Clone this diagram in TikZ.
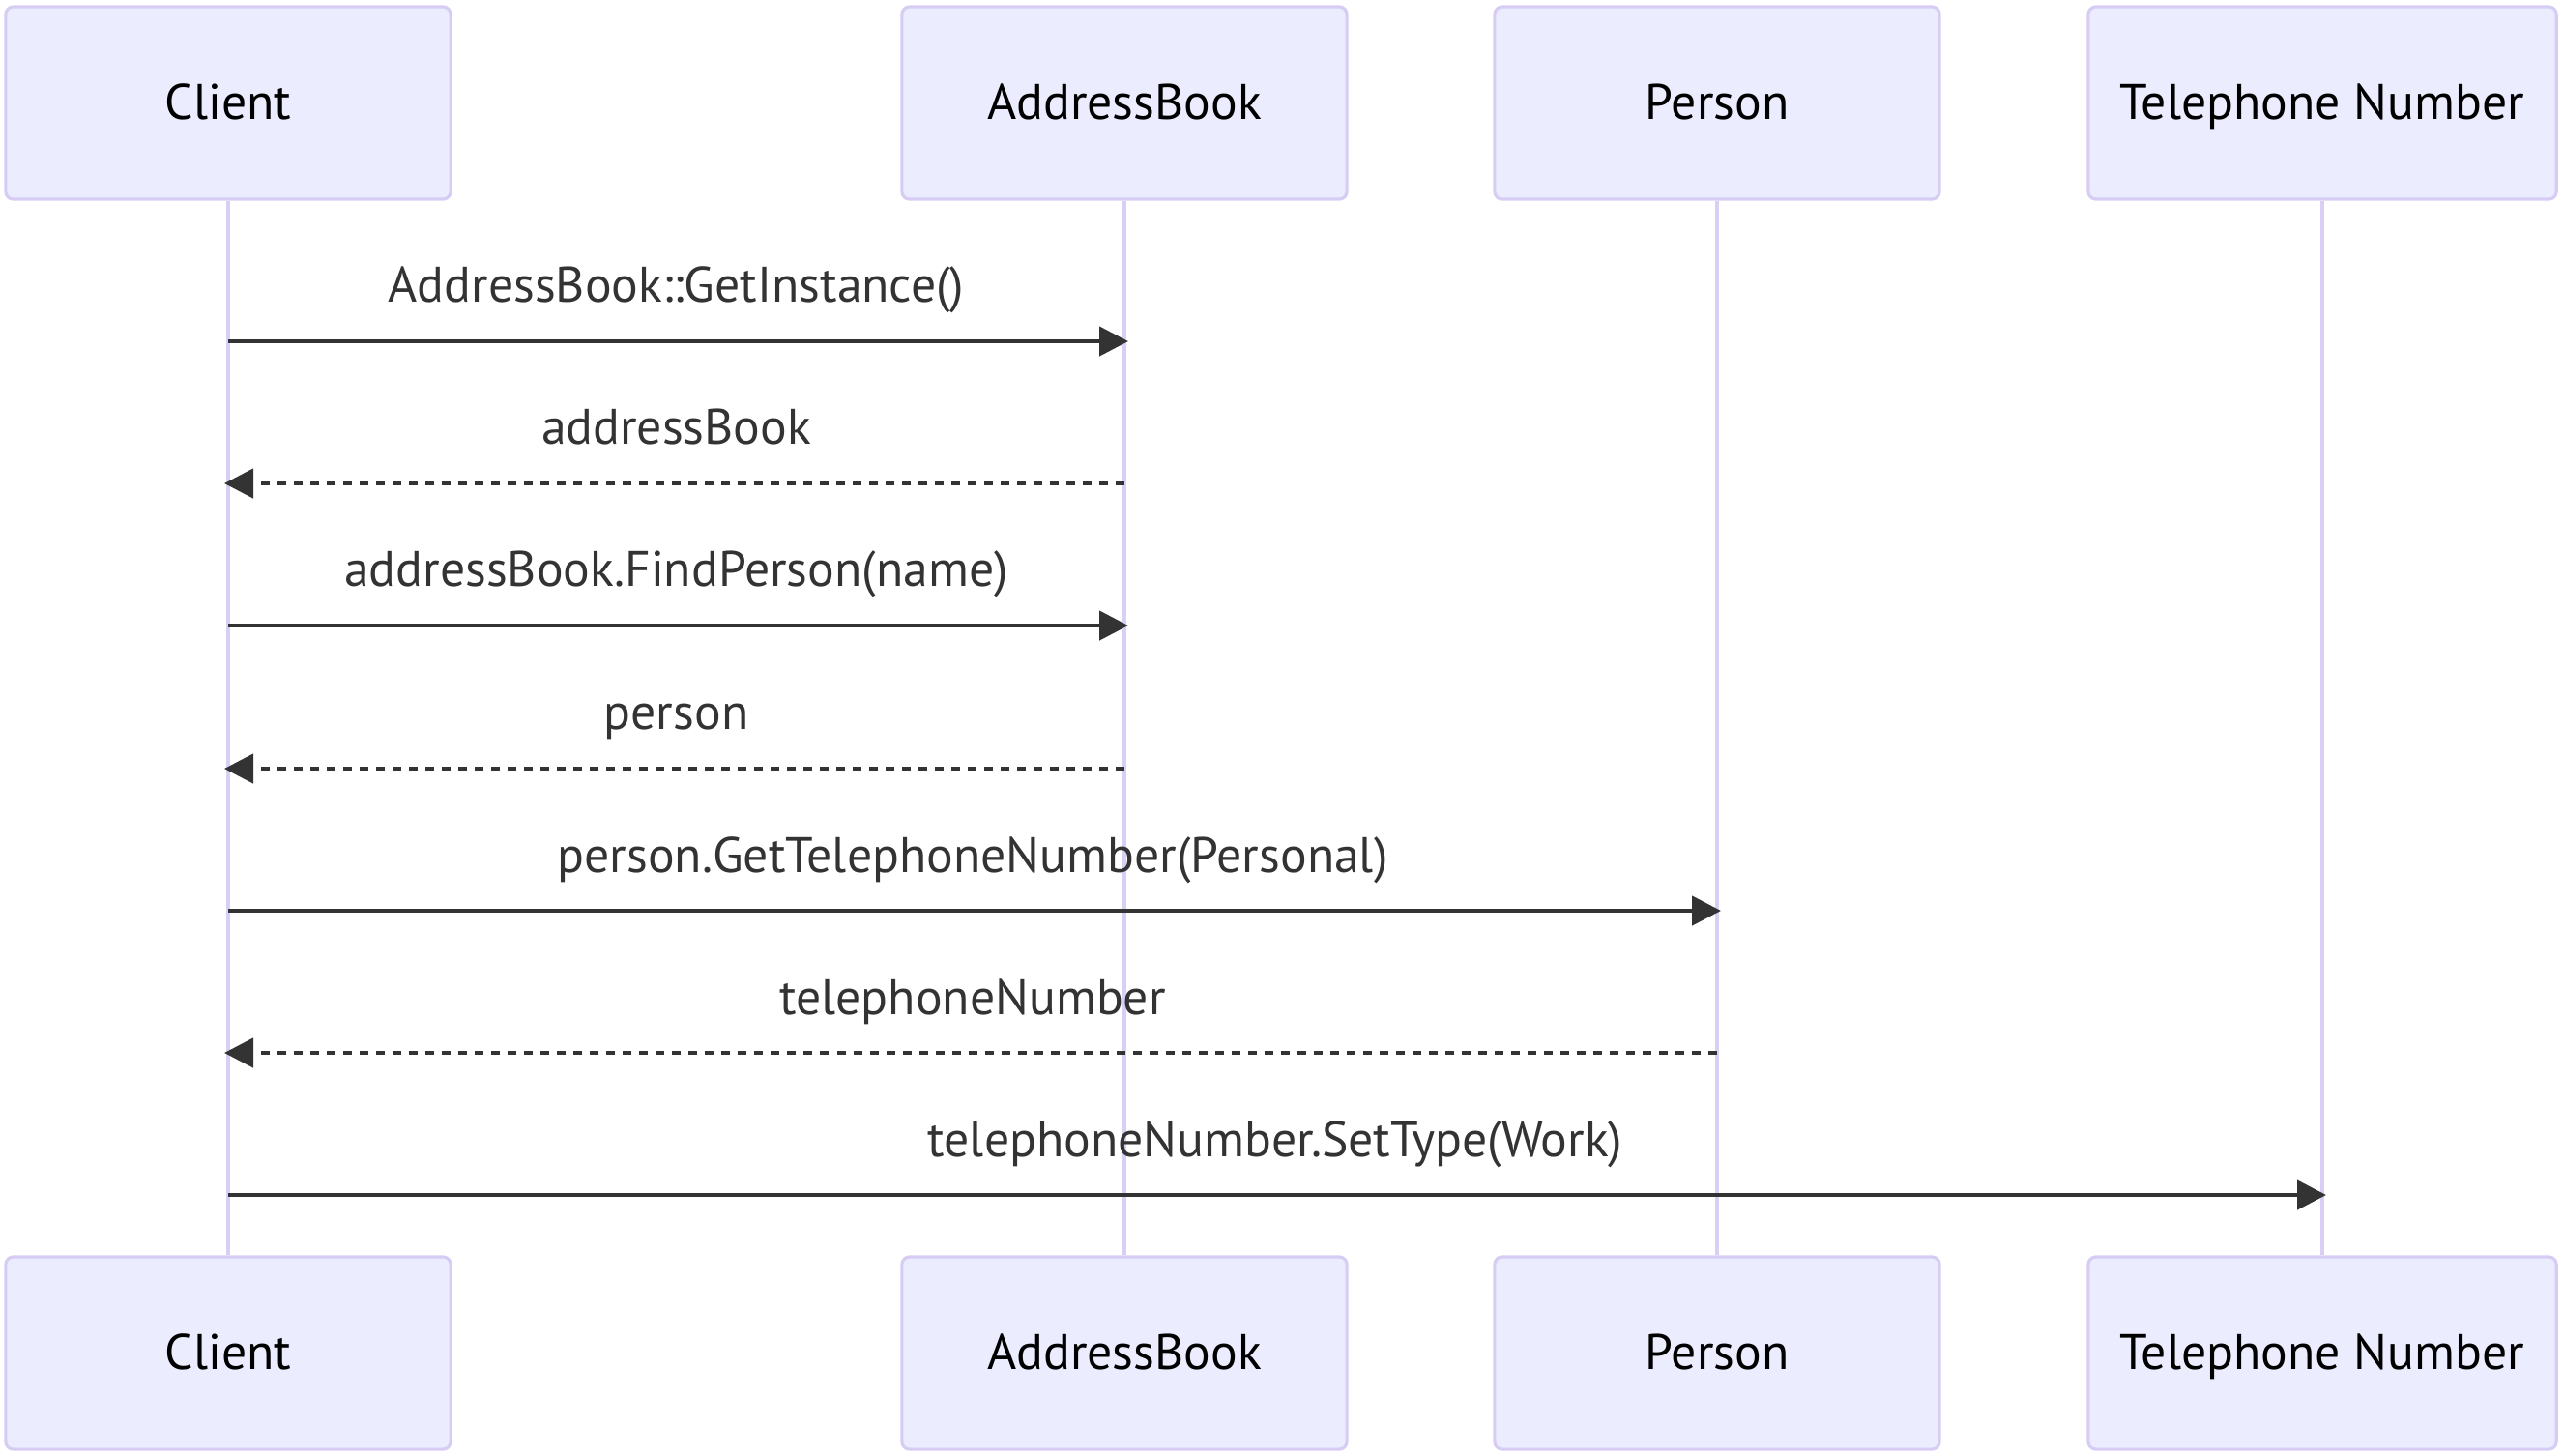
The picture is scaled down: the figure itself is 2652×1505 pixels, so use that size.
\documentclass[tikz,border=0pt]{standalone}
\usepackage{fontspec}
\setmainfont{PT Sans}
\usepackage{tikz}
\usetikzlibrary{arrows.meta,positioning}
\definecolor{sqfill}{HTML}{ECECFF}
\definecolor{sqborder}{HTML}{D6CCF4}
\definecolor{sqline}{HTML}{D9CFF5}
\definecolor{sqtext}{HTML}{333333}
\tikzstyle{actor} = [rectangle, rounded corners=0.08cm, minimum width=4.6cm, minimum height=1.99cm, text height=0.34cm, text depth=0cm, text centered, draw=sqborder, fill=sqfill, line width=0.9pt, font=\fontsize{14.7}{17}\selectfont]
\tikzstyle{lifeline} = [line width=1.1pt, color=sqline]
\tikzstyle{msg} = [line width=1.3pt, ->, >={Triangle[length=0.3cm,width=0.3cm]}, shorten >=-0.04cm, color=sqtext]
\tikzstyle{reply} = [msg, dash pattern=on 0.09cm off 0.08cm]
\tikzstyle{msglabel} = [anchor=base, yshift=0.4cm, text=sqtext, font=\fontsize{14.7}{17}\selectfont]

\begin{document}
\begin{tikzpicture}[x=0.01cm, y=-0.01cm]
\useasboundingbox (0,0) rectangle (2652,1505);
% Actors
\node[actor] (client) at (236,106.5) {Client};
\node[actor] (book) at (1163,106.5) {AddressBook};
\node[actor] (person) at (1776,106.5) {Person};
\node[actor, minimum width=4.84cm] (phone) at (2402,106.5) {Telephone Number};
\node[actor] (client2) at (236,1399.5) {Client};
\node[actor] (book2) at (1163,1399.5) {AddressBook};
\node[actor] (person2) at (1776,1399.5) {Person};
\node[actor, minimum width=4.84cm] (phone2) at (2402,1399.5) {Telephone Number};

% Lifelines
\draw[lifeline] (client) -- (client2);
\draw[lifeline] (book) -- (book2);
\draw[lifeline] (person) -- (person2);
\draw[lifeline] (phone) -- (phone2);

% Messages
\coordinate (m1) at (236,353);
\coordinate (m2) at (236,500);
\coordinate (m3) at (236,647);
\coordinate (m4) at (236,795);
\coordinate (m5) at (236,942);
\coordinate (m6) at (236,1089);
\coordinate (m7) at (236,1236);
\draw[msg] (m1) -- (m1 -| book) node[msglabel, midway] {AddressBook::GetInstance()};
\draw[reply] (m2 -| book) -- (m2) node[msglabel, midway] {addressBook};
\draw[msg] (m3) -- (m3 -| book) node[msglabel, midway] {addressBook.FindPerson(name)};
\draw[reply] (m4 -| book) -- (m4) node[msglabel, midway] {person};
\draw[msg] (m5) -- (m5 -| person) node[msglabel, midway] {person.GetTelephoneNumber(Personal)};
\draw[reply] (m6 -| person) -- (m6) node[msglabel, midway] {telephoneNumber};
\draw[msg] (m7) -- (m7 -| phone) node[msglabel, midway] {telephoneNumber.SetType(Work)};
\end{tikzpicture}
\end{document}
